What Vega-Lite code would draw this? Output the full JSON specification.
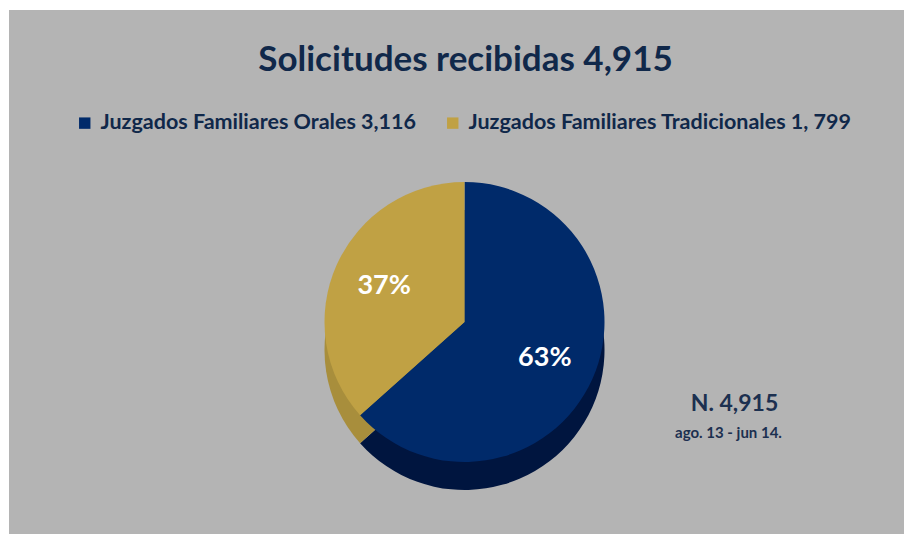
{
  "$schema": "https://vega.github.io/schema/vega-lite/v6.json",
  "width": 912,
  "height": 534,
  "autosize": {"type": "fit", "contains": "padding"},
  "padding": {"left": 9, "top": 10, "right": 8, "bottom": 0},
  "background": "#ffffff",
  "view": {"fill": "#b4b4b4", "stroke": null},
  "config": {
    "view": {"fill": "#b4b4b4", "stroke": null},
    "font": "Lato"
  },
  "title": {
    "text": "Solicitudes recibidas 4,915",
    "font": "Lato",
    "fontSize": 35,
    "fontWeight": "bold",
    "color": "#10284a",
    "anchor": "middle",
    "dx": 9,
    "offset": -68
  },
  "data": {
    "values": [
      {"categoria": "Juzgados Familiares Orales 3,116", "valor": 3116, "pct": "63%"},
      {"categoria": "Juzgados Familiares Tradicionales 1, 799", "valor": 1799, "pct": "37%"}
    ]
  },
  "encoding": {
    "theta": {"field": "valor", "type": "quantitative", "stack": true},
    "order": {"field": "valor", "type": "quantitative", "sort": "descending"}
  },
  "resolve": {"scale": {"color": "independent"}},
  "layer": [
    {
      "mark": {"type": "arc", "outerRadius": 140, "xOffset": 8, "yOffset": 78},
      "encoding": {
        "color": {
          "field": "categoria",
          "type": "nominal",
          "scale": {
            "domain": ["Juzgados Familiares Orales 3,116", "Juzgados Familiares Tradicionales 1, 799"],
            "range": ["#00153f", "#a88e3c"]
          },
          "legend": null
        }
      }
    },
    {
      "mark": {"type": "arc", "outerRadius": 140, "xOffset": 8, "yOffset": 50},
      "encoding": {
        "color": {
          "field": "categoria",
          "type": "nominal",
          "scale": {
            "domain": ["Juzgados Familiares Orales 3,116", "Juzgados Familiares Tradicionales 1, 799"],
            "range": ["#002a6a", "#c0a144"]
          },
          "legend": {
            "orient": "none",
            "legendX": 65,
            "legendY": 102,
            "direction": "horizontal",
            "title": null,
            "symbolType": "square",
            "symbolSize": 130,
            "symbolStrokeWidth": 0,
            "symbolOpacity": 1,
            "labelFont": "Lato",
            "labelFontSize": 21.5,
            "labelFontWeight": "bold",
            "labelColor": "#10284a",
            "labelLimit": 500,
            "labelOffset": 5,
            "columnPadding": 26
          }
        }
      }
    },
    {
      "mark": {"type": "text", "radius": 88, "xOffset": 8, "yOffset": 50, "font": "Lato", "fontSize": 27, "fontWeight": "bold"},
      "encoding": {
        "text": {"field": "pct", "type": "nominal"},
        "detail": {"field": "categoria", "type": "nominal"},
        "color": {"value": "#ffffff"}
      }
    },
    {
      "data": {"values": [{"nota": "N. 4,915"}]},
      "mark": {"type": "text", "dx": 278, "dy": 132, "font": "Lato", "fontSize": 23, "fontWeight": "bold"},
      "encoding": {"text": {"field": "nota", "type": "nominal"}, "theta": null, "order": null, "color": {"value": "#1c3050"}}
    },
    {
      "data": {"values": [{"nota": "ago. 13 - jun 14."}]},
      "mark": {"type": "text", "dx": 272, "dy": 161, "font": "Lato", "fontSize": 15, "fontWeight": "bold"},
      "encoding": {"text": {"field": "nota", "type": "nominal"}, "theta": null, "order": null, "color": {"value": "#1c3050"}}
    }
  ]
}
